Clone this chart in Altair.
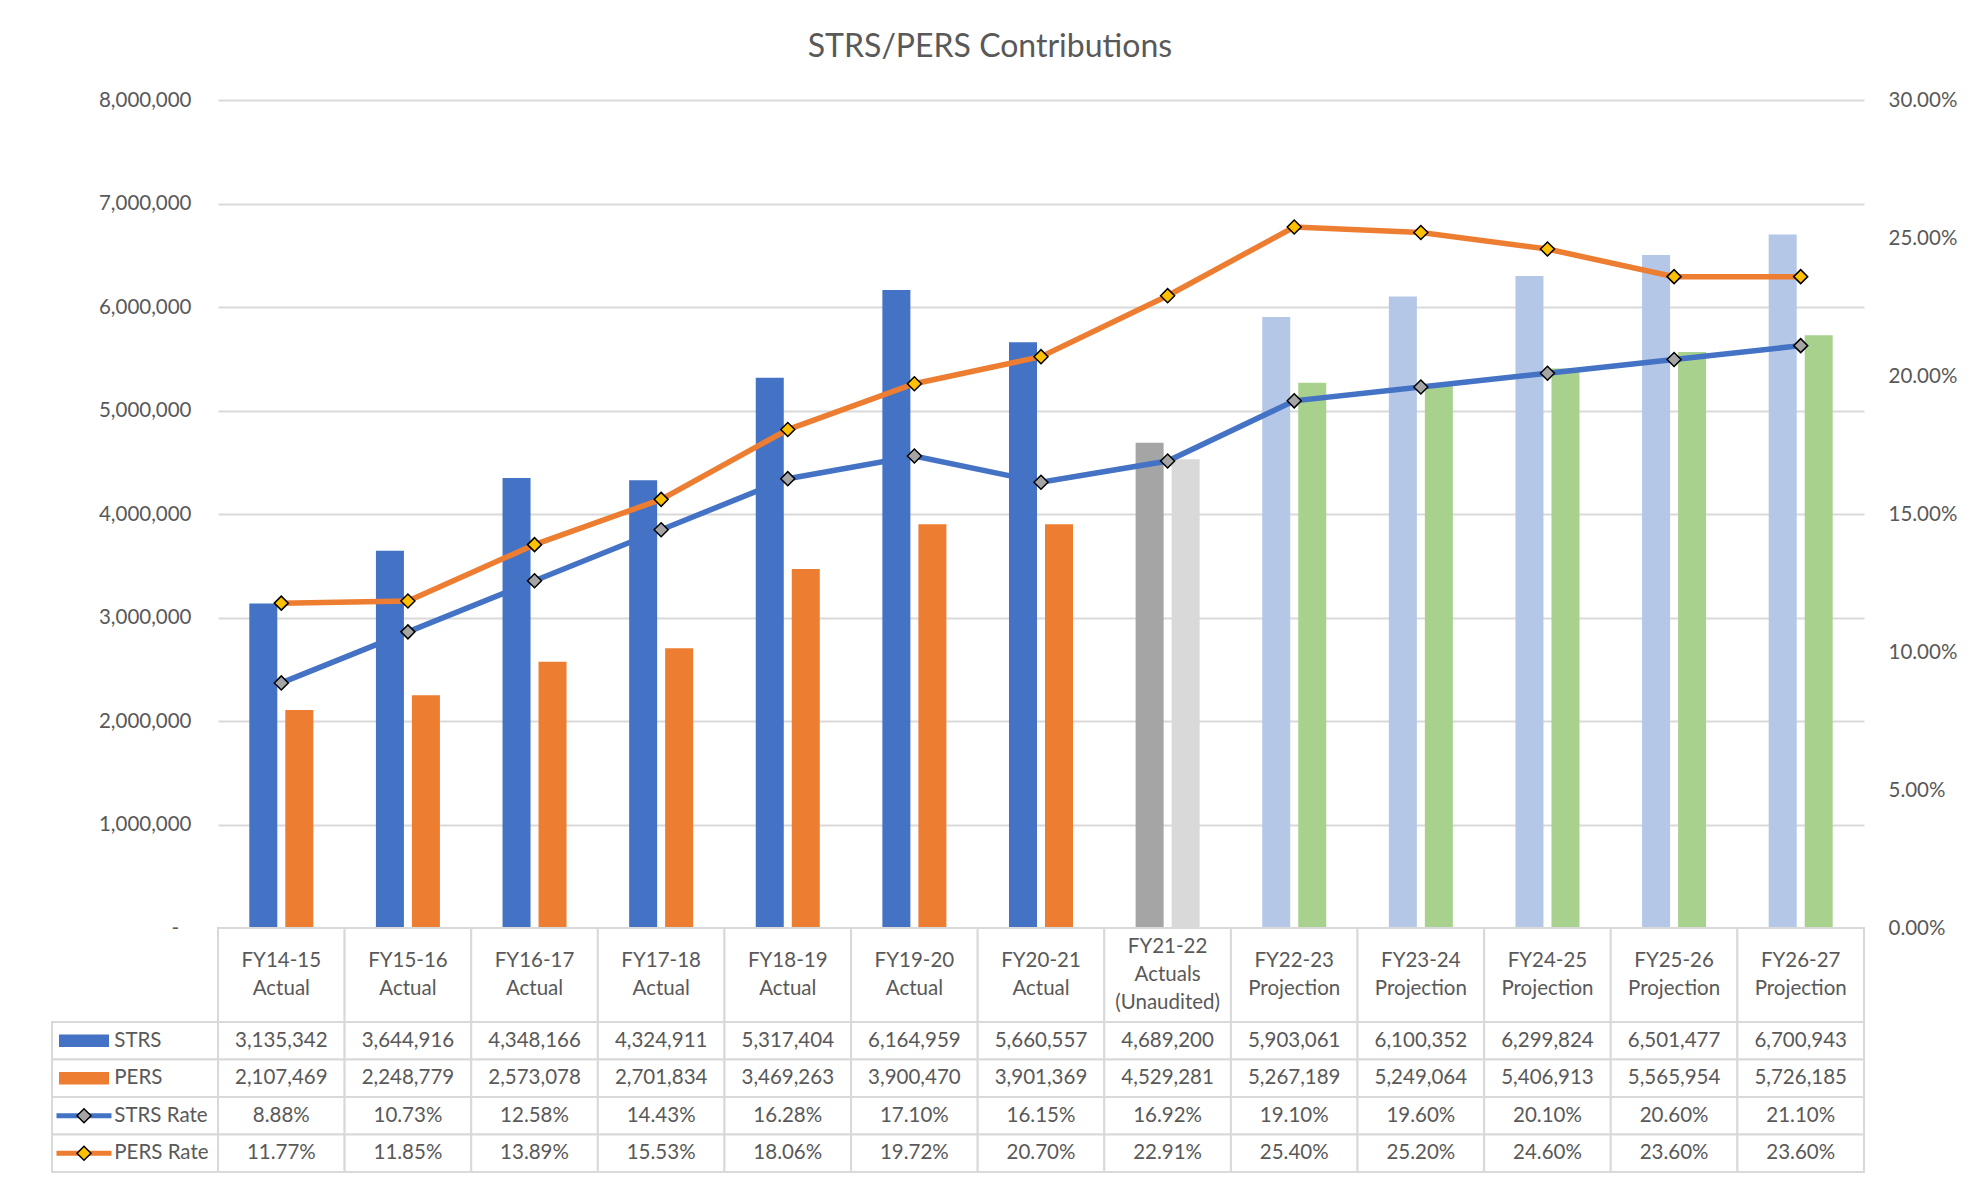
import altair as alt
import pandas as pd

# ---------------- data ----------------
categories = ["FY14-15", "FY15-16", "FY16-17", "FY17-18", "FY18-19", "FY19-20", "FY20-21",
              "FY21-22", "FY22-23", "FY23-24", "FY24-25", "FY25-26", "FY26-27"]
status = ["Actual", "Actual", "Actual", "Actual", "Actual", "Actual", "Actual",
          "Actuals\n(Unaudited)", "Projection", "Projection", "Projection", "Projection", "Projection"]
period = ["Actual", "Actual", "Actual", "Actual", "Actual", "Actual", "Actual",
          "Unaudited", "Projection", "Projection", "Projection", "Projection", "Projection"]
strs = [3135342, 3644916, 4348166, 4324911, 5317404, 6164959, 5660557,
        4689200, 5903061, 6100352, 6299824, 6501477, 6700943]
pers = [2107469, 2248779, 2573078, 2701834, 3469263, 3900470, 3901369,
        4529281, 5267189, 5249064, 5406913, 5565954, 5726185]
strs_rate = [0.0888, 0.1073, 0.1258, 0.1443, 0.1628, 0.1710, 0.1615,
             0.1692, 0.1910, 0.1960, 0.2010, 0.2060, 0.2110]
pers_rate = [0.1177, 0.1185, 0.1389, 0.1553, 0.1806, 0.1972, 0.2070,
             0.2291, 0.2540, 0.2520, 0.2460, 0.2360, 0.2360]
series_amount = ["STRS", "PERS"]
series_rate = ["STRS Rate", "PERS Rate"]
rows = ["STRS", "PERS", "STRS Rate", "PERS Rate"]
amount_ticks = [0, 1000000, 2000000, 3000000, 4000000, 5000000, 6000000, 7000000, 8000000]
rate_ticks = [0, 0.05, 0.10, 0.15, 0.20, 0.25, 0.30]
title_text = "STRS/PERS Contributions"

# ---------------- styles ----------------
FONT = "Lato"
TXT = "#595959"
GRID = "#D9D9D9"
FS = 20.5
LH = 28
W_LABEL, W_PLOT, H_PLOT, H_HEAD, H_BODY = 166, 1646, 828, 94, 150
group_domain = ["STRS Actual", "PERS Actual", "STRS Unaudited", "PERS Unaudited",
                "STRS Projection", "PERS Projection"]
group_colors = ["#4472C4", "#ED7D31", "#A5A5A5", "#D9D9D9", "#B4C7E7", "#A9D18E"]
line_colors = ["#4472C4", "#ED7D31"]
marker_colors = ["#A5A5A5", "#FFC000"]
swatch_colors = ["#4472C4", "#ED7D31", "#4472C4", "#ED7D31"]
RECT_PATH = "M-1,-0.25H1V0.25H-1Z"
LINE_PATH = "M-1,-0.09H1V0.09H-1Z"
DIAMOND_SIZE = 196

# ---------------- tables ----------------
n = len(categories)
bars_df = pd.DataFrame({
    "cat": categories * 2,
    "series": ["STRS"] * n + ["PERS"] * n,
    "value": strs + pers,
    "group": ["STRS " + p for p in period] + ["PERS " + p for p in period],
})
rates_df = pd.DataFrame({
    "cat": categories * 2,
    "series": ["STRS Rate"] * n + ["PERS Rate"] * n,
    "rate": strs_rate + pers_rate,
})
header_df = pd.DataFrame({
    "cat": categories,
    "row": ["hdr"] * n,
    "head": [c + "\n" + s for c, s in zip(categories, status)],
    "nlines": [2 + s.count("\n") for s in status],
})
cells = []
for i, c in enumerate(categories):
    cells.append((c, "STRS", f"{strs[i]:,}"))
    cells.append((c, "PERS", f"{pers[i]:,}"))
    cells.append((c, "STRS Rate", f"{strs_rate[i] * 100:.2f}%"))
    cells.append((c, "PERS Rate", f"{pers_rate[i] * 100:.2f}%"))
body_df = pd.DataFrame(cells, columns=["cat", "row", "txt"])
label_df = pd.DataFrame({"row": rows})

# ---------------- main chart ----------------
x_top = alt.X("cat:N", sort=categories,
              scale=alt.Scale(domain=categories, paddingInner=0.4945, paddingOuter=0.2472),
              axis=None)
y_amount = alt.Y("value:Q",
                 scale=alt.Scale(domain=[0, 8000000], nice=False),
                 axis=alt.Axis(orient="left", values=amount_ticks, title=None,
                               labelExpr="datum.value === 0 ? '-' : format(datum.value, ',')",
                               grid=True, gridColor=GRID, gridWidth=2, ticks=False, tickSize=0,
                               domain=False,
                               labelPadding={"condition": {"test": "datum.value === 0", "value": 39.5},
                                             "value": 27},
                               labelFont=FONT, labelFontSize=FS,
                               labelColor=TXT, minExtent=0))
y_rate = alt.Y("rate:Q",
               scale=alt.Scale(domain=[0, 0.3], nice=False),
               axis=alt.Axis(orient="right", values=rate_ticks, format=".2%", title=None,
                             grid=False, ticks=False, tickSize=0, domain=False, labelPadding=24,
                             labelFont=FONT, labelFontSize=FS, labelColor=TXT, minExtent=0))

bars = alt.Chart(bars_df).mark_bar().encode(
    x=x_top,
    xOffset=alt.XOffset("series:N", sort=series_amount,
                        scale=alt.Scale(domain=series_amount, paddingInner=0.222, paddingOuter=0)),
    y=y_amount,
    color=alt.Color("group:N", scale=alt.Scale(domain=group_domain, range=group_colors), legend=None),
)
lines = alt.Chart(rates_df).mark_line(strokeWidth=5.5).encode(
    x=x_top, y=y_rate,
    color=alt.Color("series:N", scale=alt.Scale(domain=series_rate, range=line_colors), legend=None),
)
markers = alt.Chart(rates_df).mark_point(shape="diamond", size=DIAMOND_SIZE, filled=True, opacity=1,
                                         stroke="black", strokeWidth=1.5).encode(
    x=x_top, y=y_rate,
    fill=alt.Fill("series:N", scale=alt.Scale(domain=series_rate, range=marker_colors), legend=None),
)
top = alt.layer(bars, alt.layer(lines, markers)).resolve_scale(
    y="independent", color="independent").properties(width=W_PLOT, height=H_PLOT)

# ---------------- data table ----------------
x_tab = alt.X("cat:N", sort=categories,
              scale=alt.Scale(domain=categories, paddingInner=0, paddingOuter=0), axis=None)
y_head = alt.Y("row:N", scale=alt.Scale(domain=["hdr"], paddingInner=0, paddingOuter=0), axis=None)
head_base = alt.Chart(header_df)
header = alt.layer(
    head_base.mark_rect(fill="white", stroke=GRID, strokeWidth=2).encode(x=x_tab, y=y_head),
    head_base.transform_filter("datum.nlines == 2").mark_text(
        font=FONT, fontSize=FS, color=TXT, lineBreak="\n", lineHeight=LH, baseline="middle",
        dy=-LH / 2).encode(x=x_tab, y=y_head, text="head:N"),
    head_base.transform_filter("datum.nlines == 3").mark_text(
        font=FONT, fontSize=FS, color=TXT, lineBreak="\n", lineHeight=LH, baseline="middle",
        dy=-LH).encode(x=x_tab, y=y_head, text="head:N"),
).properties(width=W_PLOT, height=H_HEAD)

y_rows = alt.Y("row:N", sort=rows, scale=alt.Scale(domain=rows, paddingInner=0, paddingOuter=0), axis=None)
body = alt.layer(
    alt.Chart(body_df).mark_rect(fill="white", stroke=GRID, strokeWidth=2).encode(x=x_tab, y=y_rows),
    alt.Chart(body_df).mark_text(font=FONT, fontSize=FS, color=TXT, baseline="middle").encode(
        x=x_tab, y=y_rows, text="txt:N"),
).properties(width=W_PLOT, height=H_BODY)

# label column (series names with their swatches)
lab_scale = alt.Scale(type="band", domain=["swatch", "name"], paddingInner=0,
                      paddingOuter=0.3696, align=0.038)
x_sw = alt.XDatum("swatch", type="nominal", scale=lab_scale, axis=None)
x_nm = alt.XDatum("name", type="nominal", bandPosition=0, scale=lab_scale, axis=None)
label_cells = alt.Chart(label_df).mark_rect(fill="white", stroke=GRID, strokeWidth=2).encode(y=y_rows)
bar_sw = alt.Chart(label_df).transform_filter(
    alt.FieldOneOfPredicate(field="row", oneOf=series_amount)
).mark_point(shape=RECT_PATH, size=2500, filled=True, opacity=1).encode(
    x=x_sw, y=y_rows,
    color=alt.Color("row:N", scale=alt.Scale(domain=rows, range=swatch_colors), legend=None))
line_sw = alt.Chart(label_df).transform_filter(
    alt.FieldOneOfPredicate(field="row", oneOf=series_rate)
).mark_point(shape=LINE_PATH, size=3025, filled=True, opacity=1).encode(
    x=x_sw, y=y_rows,
    color=alt.Color("row:N", scale=alt.Scale(domain=rows, range=swatch_colors), legend=None))
dia_sw = alt.Chart(label_df).transform_filter(
    alt.FieldOneOfPredicate(field="row", oneOf=series_rate)
).mark_point(shape="diamond", size=DIAMOND_SIZE, filled=True, opacity=1, stroke="black",
             strokeWidth=1.5).encode(
    x=x_sw, y=y_rows,
    fill=alt.Fill("row:N", scale=alt.Scale(domain=series_rate, range=marker_colors), legend=None))
names = alt.Chart(label_df).mark_text(align="left", baseline="middle", font=FONT, fontSize=FS,
                                      color=TXT).encode(x=x_nm, y=y_rows, text="row:N")
label_chart = alt.layer(label_cells, bar_sw, line_sw, dia_sw, names).properties(
    width=W_LABEL, height=H_BODY)

blank_df = pd.DataFrame({"row": ["blank"]})
spacer_top = alt.Chart(blank_df).mark_point(opacity=0).encode(
    y=alt.Y("row:N", axis=None)).properties(width=W_LABEL, height=H_PLOT)
spacer_head = alt.Chart(blank_df).mark_point(opacity=0).encode(
    y=alt.Y("row:N", axis=None)).properties(width=W_LABEL, height=H_HEAD)

chart = alt.concat(
    spacer_top, top, spacer_head, header, label_chart, body,
    columns=2, spacing=0, align="each", bounds="flush",
).resolve_scale(
    color="independent", fill="independent"
).properties(
    title=alt.TitleParams(title_text, font=FONT, fontSize=32, fontWeight="normal", color=TXT,
                          anchor="middle", offset=26, dx=-14),
    padding={"left": 42, "top": 22, "right": 10, "bottom": 0},
).configure_view(stroke="transparent")

chart.save("out.html", embed_options={"renderer": "svg", "actions": False})
